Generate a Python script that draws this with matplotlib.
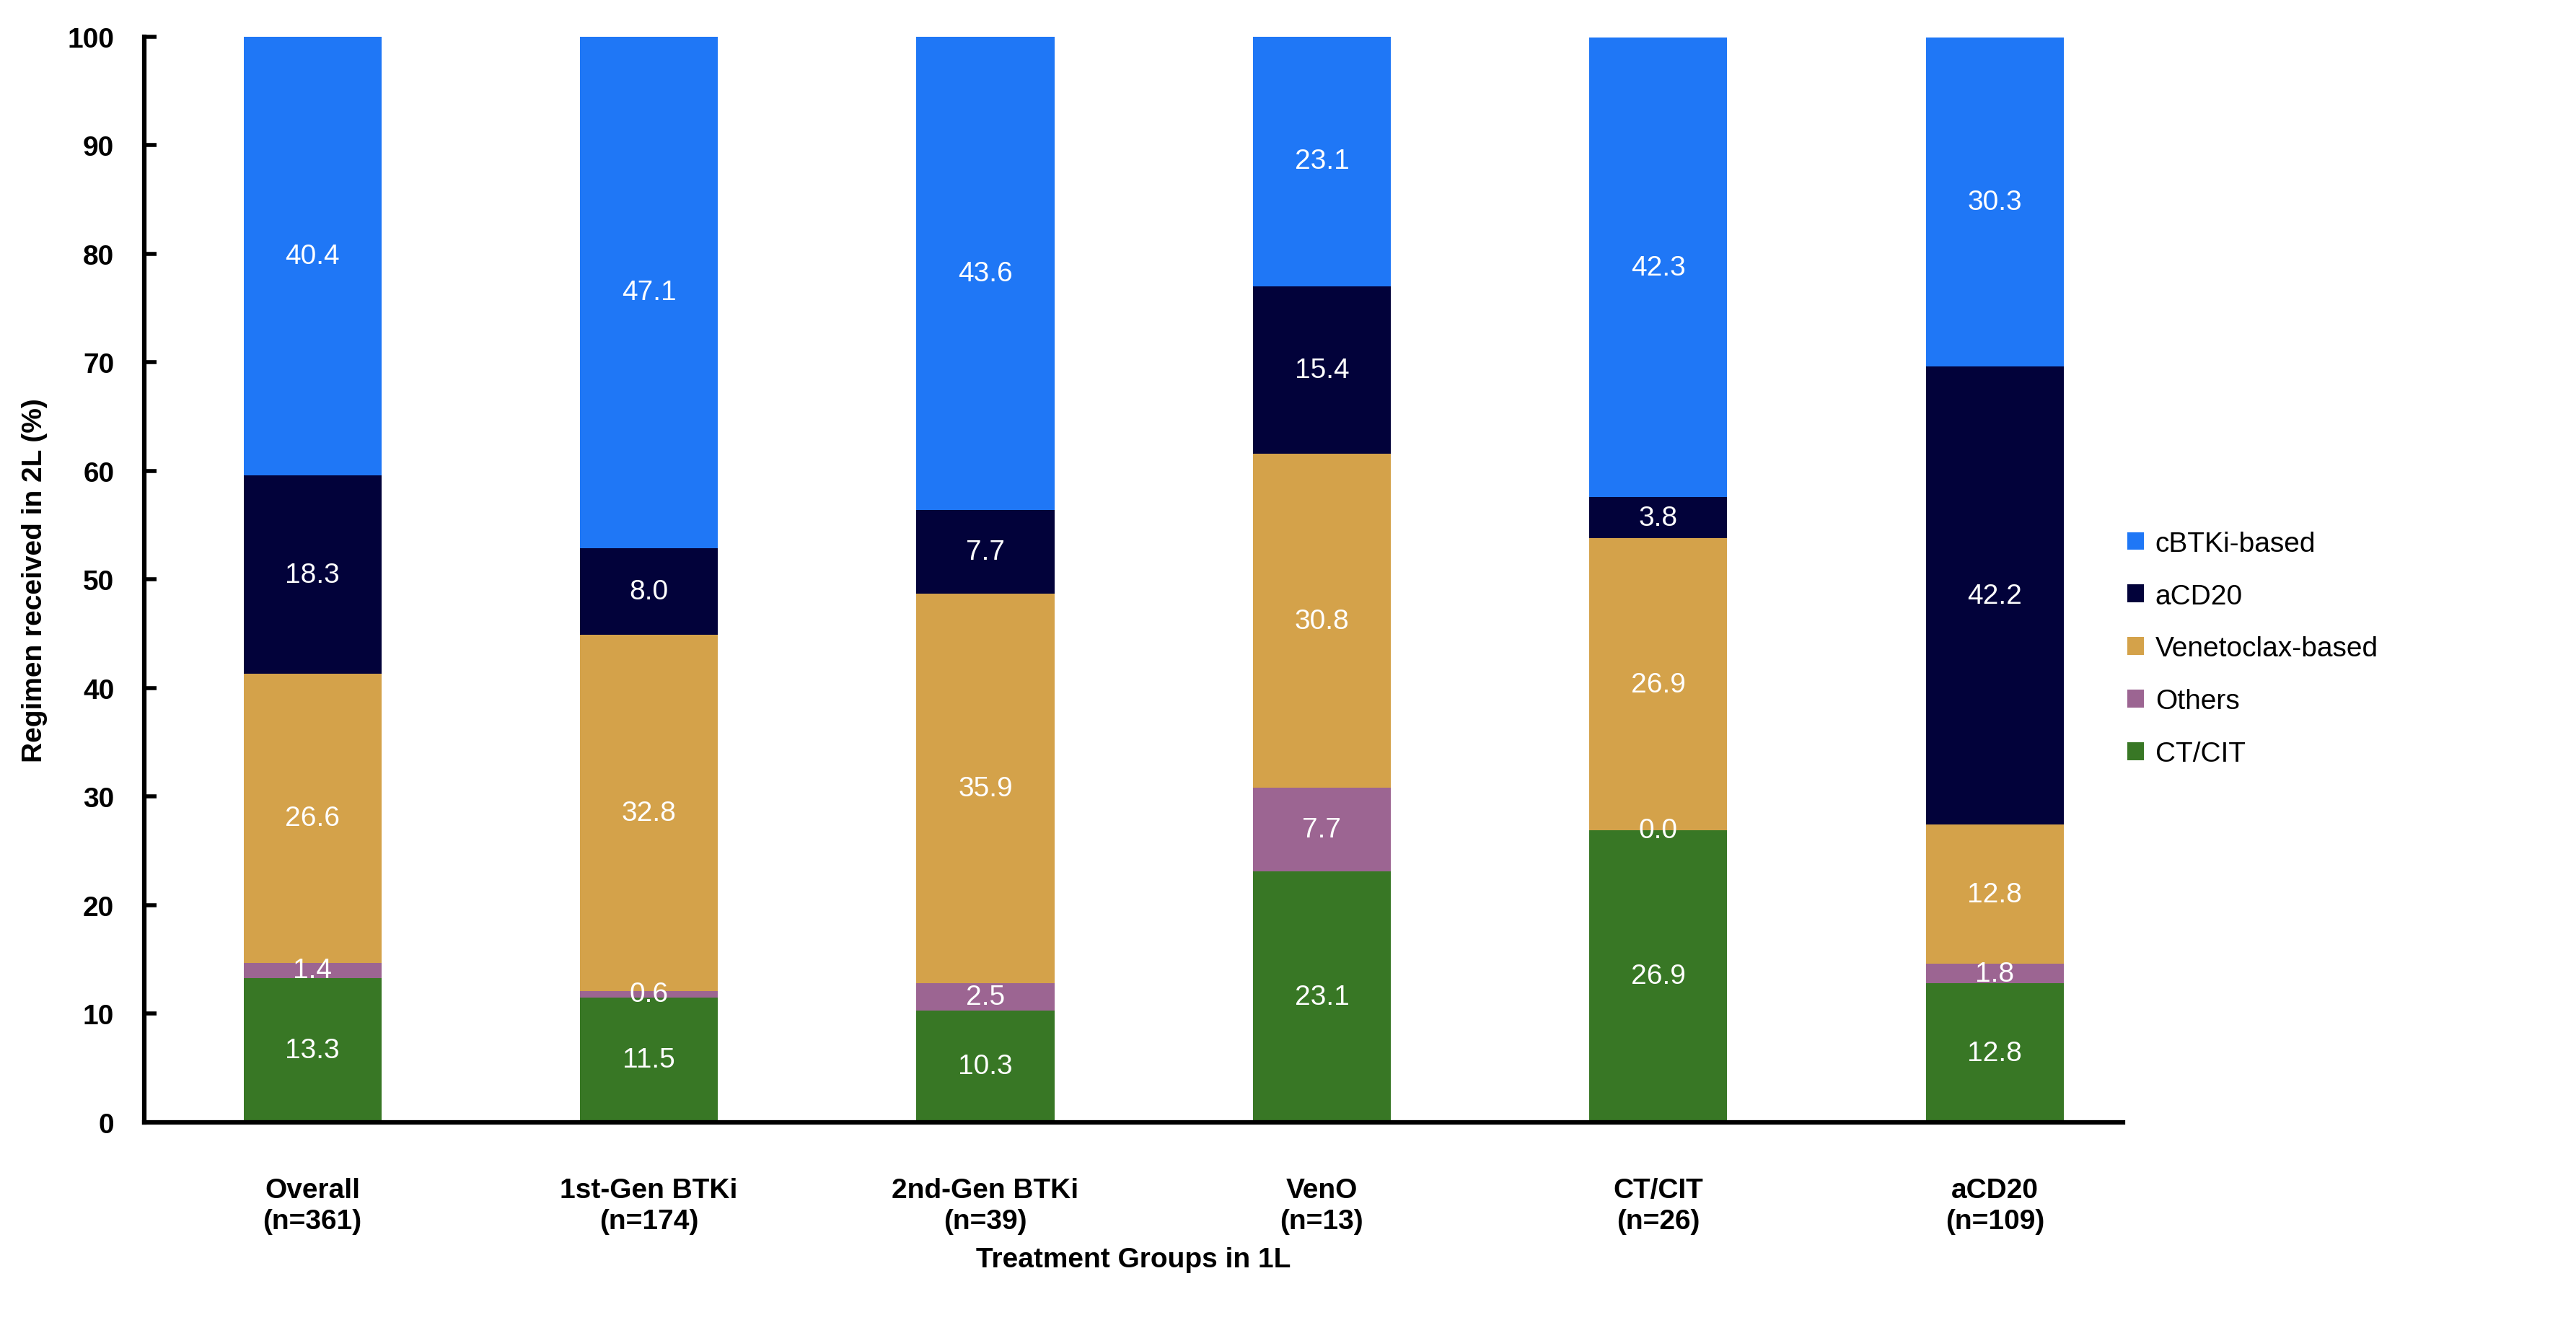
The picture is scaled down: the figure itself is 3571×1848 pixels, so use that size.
import matplotlib.pyplot as plt
import numpy as np

plt.rcParams['font.family'] = ['Liberation Sans', 'DejaVu Sans']

groups = ["Overall\n(n=361)", "1st-Gen BTKi\n(n=174)", "2nd-Gen BTKi\n(n=39)",
          "VenO\n(n=13)", "CT/CIT\n(n=26)", "aCD20\n(n=109)"]

# stacked bottom to top
ct_cit = [13.3, 11.5, 10.3, 23.1, 26.9, 12.8]
others = [1.4, 0.6, 2.5, 7.7, 0.0, 1.8]
venetoclax = [26.6, 32.8, 35.9, 30.8, 26.9, 12.8]
acd20 = [18.3, 8.0, 7.7, 15.4, 3.8, 42.2]
cbtki = [40.4, 47.1, 43.6, 23.1, 42.3, 30.3]

series = [
    ("CT/CIT", ct_cit, "#387725"),
    ("Others", others, "#9c6592"),
    ("Venetoclax-based", venetoclax, "#d4a24a"),
    ("aCD20", acd20, "#02023a"),
    ("cBTKi-based", cbtki, "#1f77f6"),
]

fig = plt.figure(figsize=(35.71, 18.49), dpi=100)
ax = fig.add_axes([0.056, 0.158, 0.768, 0.814])

x = np.arange(len(groups))
bottom = np.zeros(len(groups))
handles = {}
for name, vals, col in series:
    vals = np.array(vals)
    bars = ax.bar(x, vals, 0.41, bottom=bottom, color=col, label=name)
    handles[name] = bars
    for xi, b, v in zip(x, bottom, vals):
        ax.text(xi, b + v / 2, f"{v:.1f}", ha="center", va="center",
                color="white", fontsize=28)
    bottom += vals

ax.set_xlim(-0.5, 5.38)
ax.set_ylim(0, 100)
ax.set_yticks(range(0, 101, 10))
ax.set_xticks(x)
ax.set_xticklabels(groups, fontsize=28, fontweight="bold", linespacing=1.25)
ax.tick_params(axis="x", length=0, pad=55)
ax.tick_params(axis="y", direction="in", length=12, width=4, labelsize=28, pad=30)
for lab in ax.get_yticklabels():
    lab.set_fontweight("bold")

for s in ["top", "right"]:
    ax.spines[s].set_visible(False)
for s in ["left", "bottom"]:
    ax.spines[s].set_linewidth(4.5)

ax.set_ylabel("Regimen received in 2L (%)", fontsize=28, fontweight="bold", labelpad=20)
ax.set_xlabel("Treatment Groups in 1L", fontsize=28, fontweight="bold", labelpad=12)

order = ["cBTKi-based", "aCD20", "Venetoclax-based", "Others", "CT/CIT"]
fig.legend([handles[n] for n in order], order, loc="center left",
           bbox_to_anchor=(0.816, 0.513), frameon=False, fontsize=28,
           handlelength=0.6, handleheight=0.6, handletextpad=0.4, labelspacing=0.95)

fig.savefig("out.png", dpi=100, facecolor="white")
